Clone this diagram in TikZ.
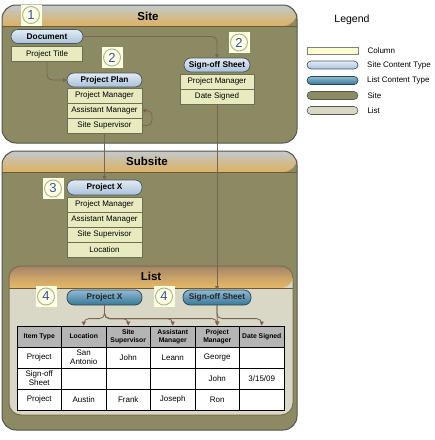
\documentclass[tikz,border=0pt]{standalone}
\usepackage{fontspec}
\setmainfont{Liberation Sans}
\usetikzlibrary{arrows.meta,calc,positioning}
\definecolor{siteol}{HTML}{8B8A62}
\definecolor{panelline}{HTML}{55554A}
\definecolor{hdtop}{HTML}{C0CBD0}
\definecolor{hdbot}{HTML}{DDB163}
\definecolor{hdline}{HTML}{6B5B3C}
\definecolor{lhdtop}{HTML}{A4836A}
\definecolor{lhdbot}{HTML}{E6BA66}
\definecolor{listline}{HTML}{7D6E4C}
\definecolor{listbg}{HTML}{D9D8C6}
\definecolor{colfill}{HTML}{EAEAC0}
\definecolor{colline}{HTML}{6E6E50}
\definecolor{legcolfill}{HTML}{FFFFD2}
\definecolor{scttop}{HTML}{E2EBF4}
\definecolor{sctbot}{HTML}{A9C1DA}
\definecolor{sctline}{HTML}{4A5663}
\definecolor{lcttop}{HTML}{8FBAD2}
\definecolor{lctbot}{HTML}{3A7898}
\definecolor{lctline}{HTML}{2A4655}
\definecolor{badgebg}{HTML}{FFFFE4}
\definecolor{badgering}{HTML}{A9B993}
\definecolor{badgenum}{HTML}{3553A3}
\definecolor{tblhd}{HTML}{B4B4B4}
\definecolor{connc}{HTML}{7A6650}
\newcommand{\colfnt}{\fontsize{8}{8.8}\selectfont}
% header band of a panel: node, band height, top colour, bottom colour, radius, border colour
\newcommand{\panelhead}[6]{%
	\shade[top color=#3, bottom color=#4, middle color=#3!45!#4] ([yshift=-#2]#1.north west) [rounded corners=#5] |- (#1.north) -| ([yshift=-#2]#1.north east) [sharp corners] -- cycle;
	\draw[hdline, line width=1pt] ([yshift=-#2]#1.north west) -- ([yshift=-#2]#1.north east);
	\draw[#6, line width=1pt, rounded corners=#5] (#1.north west) rectangle (#1.south east);}
\tikzset{
	panel/.style={rounded corners=14pt, fill=siteol, anchor=north west, inner sep=0pt, outer sep=0pt},
	ptitle/.style={font=\bfseries\fontsize{11.5}{12}\selectfont},
	% content types ---------------------------------------------
	sitect/.style={draw=sctline, line width=0.7pt, rounded corners=7pt, top color=scttop, bottom color=sctbot, minimum height=14pt, inner sep=0pt, outer sep=0pt, font=\bfseries\fontsize{8.3}{9}\selectfont},
	listct/.style={draw=lctline, line width=0.7pt, rounded corners=7pt, top color=lcttop, bottom color=lctbot, minimum height=15pt, inner sep=0pt, outer sep=0pt, font=\bfseries\fontsize{8.3}{9}\selectfont, text=black!85},
	colbox/.style={draw=colline, line width=0.7pt, fill=colfill, minimum width=75pt, minimum height=15pt, inner sep=0pt, outer sep=0pt, font=\colfnt},
	badge/.style={fill=badgebg, minimum size=21pt, inner sep=0pt, text=badgenum, font=\fontsize{13}{13}\selectfont,
		path picture={\draw[badgering, line width=1pt] (path picture bounding box.center) circle (8.5pt);}},
	% table -----------------------------------------------------
	hcell/.style={draw=black, line width=0.8pt, fill=tblhd, minimum width=44.5pt, minimum height=21pt, inner sep=0.5pt, align=center, font=\bfseries\fontsize{6.8}{7.6}\selectfont},
	cell/.style={draw=black, line width=0.8pt, fill=white, minimum width=44.5pt, minimum height=21pt, inner sep=1pt, align=center, font=\colfnt},
	conn/.style={draw=connc, line width=0.8pt, rounded corners=5pt, -{Triangle[length=4pt,width=4pt]}},
	legtxt/.style={font=\fontsize{8}{9}\selectfont, anchor=west, inner sep=0pt},
}
\begin{document}
\begin{tikzpicture}[x=1pt,y=-1pt]
\useasboundingbox (0,0) rectangle (435,440);
% panels
\node[panel, minimum width=295pt, minimum height=138pt] (site) at (2,5) {};
\panelhead{site}{21pt}{hdtop}{hdbot}{14pt}{panelline}
\node[panel, minimum width=295pt, minimum height=279pt] (subsite) at (2,151) {};
\panelhead{subsite}{21pt}{hdtop}{hdbot}{14pt}{panelline}
\node[panel, fill=listbg, minimum width=284pt, minimum height=149pt, rounded corners=12pt] (list) at (9,266) {};
\panelhead{list}{22pt}{lhdtop}{lhdbot}{12pt}{listline}
\node[ptitle] (sitettl) at (148,16) {Site};
\node[ptitle] (subttl) at (147,161.5) {Subsite};
\node[ptitle] (listttl) at (151,276) {List};

% site
\node[sitect, minimum width=72pt] (doc) at (47,36.5) {Document};
\node[colbox, minimum width=71pt, below=3pt of doc] (ptitle) {Project Title};
\node[sitect, minimum width=75pt] (pplan) at (104.5,80) {Project Plan};
\node[colbox, below=1pt of pplan] (ppm) {Project Manager};
\node[colbox, below=0pt of ppm] (pam) {Assistant Manager};
\node[colbox, below=0pt of pam] (pss) {Site Supervisor};
\node[sitect, minimum width=66pt] (sop) at (217,65) {Sign-off Sheet};
\node[colbox, minimum width=74pt, below=2pt of sop] (spm) {Project Manager};
\node[colbox, minimum width=74pt, below=0pt of spm] (sds) {Date Signed};

% subsite
\node[sitect, minimum width=75pt, minimum height=15pt] (pxsub) at (104.5,187.5) {Project X};
\node[colbox, below=2pt of pxsub] (xpm) {Project Manager};
\node[colbox, below=0pt of xpm] (xam) {Assistant Manager};
\node[colbox, below=0pt of xam] (xss) {Site Supervisor};
\node[colbox, below=0pt of xss] (xloc) {Location};

% list
\node[listct, minimum width=75pt] (pxl) at (104.5,297.5) {Project X};
\node[listct, minimum width=68pt] (sol) at (217,297.5) {Sign-off Sheet};
\foreach \txt [count=\i] in {Item Type,Location,Site\\Supervisor,Assistant\\Manager,Project\\Manager,Date Signed}
	\node[hcell] (h\i) at (17+44.5*\i-22.25,336.5) {\txt};
\foreach \row [count=\r] in {{Project,San\\Antonio,John,Leann,George,{}},{Sign-off\\Sheet,{},{},{},John,3/15/09},{Project,Austin,Frank,Joseph,Ron,{}}}
	\foreach \txt [count=\i] in \row
		\node[cell] (c\r\i) at (17+44.5*\i-22.25,336.5+21*\r) {\txt};

% badges
\node[badge] (b1) at (31,15) {1};
\node[badge] (b2a) at (112,57.5) {2};
\node[badge] (b2b) at (239,42.5) {2};
\node[badge] (b3) at (53,188.5) {3};
\node[badge] (b4a) at (46,296.5) {4};
\node[badge] (b4b) at (164,296.5) {4};

% connectors
\draw[conn] (doc.east) -| (sop.north);
\draw[conn] (ptitle.south) |- (pplan.west);
\draw[conn] (pss.east) -- ++(10,0) |- (pam.east);
\draw[conn] (pss.south) -- (pxsub.north);
\draw[conn] (sds.south) -- (sol.north);
\foreach \t in {h2,h3,h4,h5}
	\draw[conn] (pxl.south) |- ([yshift=7pt]\t.north) -- (\t.north);
\draw[conn] (sol.south) -- (h5.north);
\draw[conn] (sol.south) |- ([yshift=7pt]h6.north) -- (h6.north);

% legend
\node[font=\fontsize{10.5}{12}\selectfont] (lgd) at (352,20) {Legend};
\node[draw=gray, line width=0.6pt, fill=legcolfill, minimum width=51pt, minimum height=7pt, inner sep=0pt] (lgcol) at (332.5,50.5) {};
\node[sitect, minimum width=51pt, minimum height=8pt, rounded corners=4pt] (lgsct) at (332.5,65) {};
\node[listct, minimum width=51pt, minimum height=8pt, rounded corners=4pt] (lglct) at (332.5,80.5) {};
\node[draw=panelline, line width=0.6pt, fill=siteol, rounded corners=4pt, minimum width=51pt, minimum height=8pt, inner sep=0pt] (lgsite) at (332.5,95.5) {};
\node[draw=panelline, line width=0.6pt, fill=listbg, rounded corners=4pt, minimum width=51pt, minimum height=8pt, inner sep=0pt] (lglist) at (332.5,110.5) {};
\node[legtxt, right=9pt of lgcol] {Column};
\node[legtxt, right=9pt of lgsct] {Site Content Type};
\node[legtxt, right=9pt of lglct] {List Content Type};
\node[legtxt, right=9pt of lgsite] {Site};
\node[legtxt, right=9pt of lglist] {List};
\end{tikzpicture}
\end{document}
